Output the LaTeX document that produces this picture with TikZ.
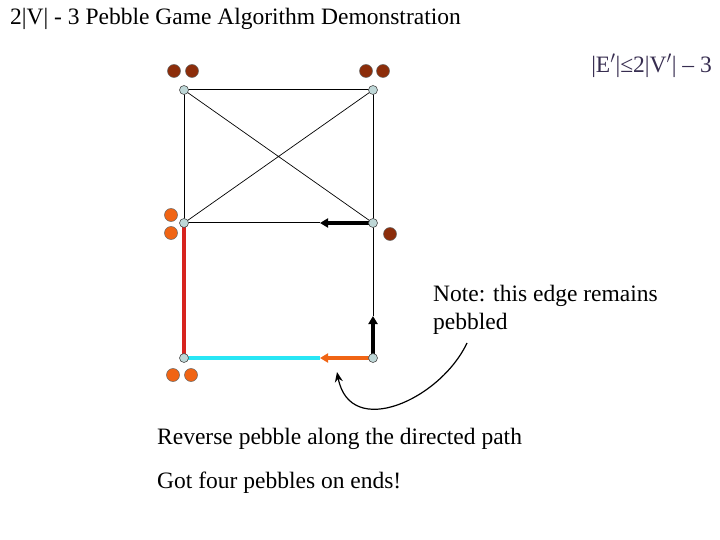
\documentclass[tikz,border=0pt]{standalone}
\usepackage{fontspec}
\setmainfont{Liberation Serif}
\usetikzlibrary{arrows.meta}
\definecolor{vfill}{RGB}{190,215,215}
\definecolor{brownp}{RGB}{140,45,10}
\definecolor{orangep}{RGB}{240,100,20}
\definecolor{redE}{RGB}{215,35,30}
\definecolor{cyanE}{RGB}{40,230,245}
\definecolor{txt}{RGB}{55,45,80}
\begin{document}
\begin{tikzpicture}[x=1pt,y=-1pt,
  vert/.style={circle,draw=black!70,fill=vfill,line width=0.6pt,inner sep=0pt,minimum size=9pt},
  peb/.style={circle,draw=black!60,line width=0.5pt,inner sep=0pt,minimum size=13pt},
  bp/.style={peb,fill=brownp}, op/.style={peb,fill=orangep},
  thin/.style={line width=1pt,black},
  txtn/.style={font=\fontsize{23.5}{28}\selectfont,inner sep=0pt,text=black}]
\useasboundingbox (0,0) rectangle (720,540);
\node[txtn,anchor=west] (title) at (10,19) {2|V| - 3 Pebble Game Algorithm Demonstration};
\node[txtn,anchor=east,text=txt] (cnt) at (712,66) {|E$'$|≤2|V$'$| – 3};
\coordinate (TL) at (184,90); \coordinate (TR) at (373,90);
\coordinate (ML) at (184,223); \coordinate (MR) at (373,223);
\coordinate (BL) at (184,358); \coordinate (BR) at (373,358);
\coordinate (a1) at (320,223); \coordinate (a2) at (373,316); \coordinate (a3) at (320,358);
\draw[thin] (TL)--(TR) (TL)--(ML) (TR)--(MR) (ML)--(a1) (MR)--(a2);
\draw[line width=0.7pt] (TL)--(MR) (TR)--(ML);
\draw[redE,line width=4pt] (BL)--(ML);
\draw[cyanE,line width=4pt] (BL)--(a3);
\draw[orangep,line width=4pt,-{Triangle[length=8pt,width=9pt]}] (BR)--(a3);
\draw[black,line width=4pt,-{Triangle[length=8pt,width=9pt]}] (MR)--(a1);
\draw[black,line width=4pt,-{Triangle[length=8pt,width=9pt]}] (BR)--(a2);
\foreach \n/\p in {vTL/TL,vTR/TR,vML/ML,vMR/MR,vBL/BL,vBR/BR} \node[vert] (\n) at (\p) {};
\node[bp] (p1) at (174,71) {}; \node[bp] (p2) at (192,71) {};
\node[bp] (p3) at (366,71) {}; \node[bp] (p4) at (383,71) {};
\node[op] (p5) at (171,215) {}; \node[op] (p6) at (171,233) {};
\node[bp] (p7) at (390,234) {};
\node[op] (p8) at (173,375) {}; \node[op] (p9) at (191,375) {};
\node[txtn,anchor=west,align=left] (note) at (433,310) {Note: this edge remains\\pebbled};
\coordinate (cs) at (467,343); \coordinate (ce) at (337,372);
\draw[line width=1.2pt,-{Stealth[length=10pt,width=8pt]}] (cs) .. controls (440,400) and (350,440) .. (ce);
\node[txtn,anchor=west] (rev) at (157,439) {Reverse pebble along the directed path};
\node[txtn,anchor=west] (got) at (157,483) {Got four pebbles on ends!};
\end{tikzpicture}
\end{document}
